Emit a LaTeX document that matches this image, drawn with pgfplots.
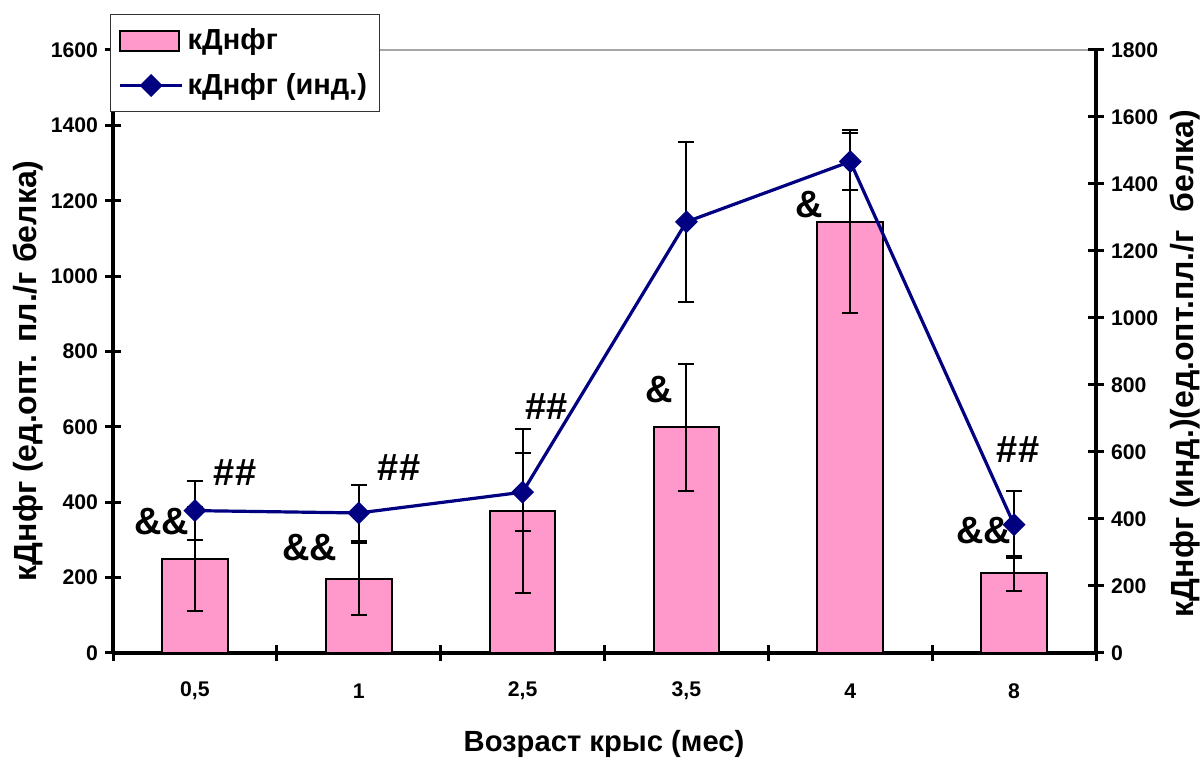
\documentclass[border=0pt]{standalone}
\usepackage{fontspec}
\setmainfont{Liberation Sans}
\usepackage{pgfplots}
\pgfplotsset{compat=1.18}
\definecolor{barpink}{HTML}{FF99CC}
\definecolor{navyline}{HTML}{000080}
\tikzset{annot/.style={font=\bfseries\fontsize{19}{21}\selectfont, inner sep=0pt, anchor=center}}
\pgfplotsset{
  barlegend/.style={legend image code/.code={\draw[fill=barpink,draw=black,line width=1pt] (0pt,-5pt) rectangle (29.5pt,5pt);}},
  linelegend/.style={legend image code/.code={\draw[##1, mark repeat=2, mark phase=2] plot coordinates {(0pt,0pt) (15.5pt,0pt) (31pt,0pt)};}},
  common/.style={
    at={(56.5pt,52.5pt)}, anchor=south west,
    scale only axis, width=491.5pt, height=301.5pt,
    xmin=-0.5, xmax=5.5,
    /pgf/number format/assume math mode=true,
    /pgf/number format/1000 sep={},
    tick label style={font=\bfseries\fontsize{10.6}{12}\selectfont},
    axis line style={-, line width=2pt, black},
    tick align=center,
    major tick length=8pt,
    minor tick length=8pt,
    clip=false,
  },
  errstyle/.style={error bars/.cd, y dir=both, y explicit,
    error bar style={line width=1pt, black},
    error mark=-,
    error mark options={rotate=90, black, line width=1pt, mark size=4pt}},
}
\begin{document}
\begin{tikzpicture}
\useasboundingbox (0,0) rectangle (601pt,379pt);
\begin{axis}[common,
  axis x line*=bottom, axis y line*=left,
  ymin=0, ymax=1600, ytick={0,200,...,1600},
  ytick style={line width=1.5pt, black},
  xtick={0,...,5}, xticklabels={{0,5},{1},{2,5},{3,5},{4},{8}},
  minor xtick={-0.5,0.5,...,5.5},
  major x tick style={draw=none},
  minor x tick style={line width=1.5pt, black},
  xticklabel style={anchor=center, yshift=-15pt},
  every axis y label/.style={at={(axis description cs:-0.0865,0.468)}, rotate=90, anchor=center, font=\bfseries\fontsize{16}{18}\selectfont},
  every axis x label/.style={at={(axis description cs:0.4995,-0.151)}, anchor=center, font=\bfseries\fontsize{14.6}{16}\selectfont},
  ylabel={кДнфг (ед.опт. пл./г белка)},
  xlabel={Возраст крыс (мес)},
]
\draw[gray!70, line width=0.6pt] (rel axis cs:0,1) -- (rel axis cs:1,1);
\addplot[ybar, bar width=0.4, fill=barpink, draw=black, line width=1pt, errstyle]
  coordinates {
  (0,249) +- (0,138)
  (1,196) +- (0,95)
  (2,377) +- (0,218)
  (3,599) +- (0,169)
  (4,1144) +- (0,243)
  (5,211) +- (0,47)
  };
\node[annot] at (axis cs:-0.201,348) {\&\&};
\node[annot] at (axis cs:0.245,480) {\#\#};
\node[annot] at (axis cs:0.702,281) {\&\&};
\node[annot] at (axis cs:1.246,493) {\#\#};
\node[annot] at (axis cs:2.149,653) {\#\#};
\node[annot] at (axis cs:2.833,700) {\&};
\node[annot] at (axis cs:3.748,1191) {\&};
\node[annot] at (axis cs:5.024,539) {\#\#};
\node[annot] at (axis cs:4.816,326) {\&\&};
\end{axis}
\begin{axis}[common,
  axis x line=none, axis y line*=right,
  ymin=0, ymax=1800, ytick={0,200,...,1800},
  ytick style={line width=1.5pt, black},
  every axis y label/.style={at={(axis description cs:1.0905,0.48)}, rotate=90, anchor=center, font=\bfseries\fontsize{16}{18}\selectfont},
  ylabel={кДнфг (инд.)(ед.опт.пл./г\ \ белка)},
  legend style={at={(axis description cs:-0.003,1.0597)}, anchor=north west,
    draw=black!80, line width=0.5pt, fill=white,
    font=\bfseries\fontsize{14.5}{16}\selectfont,
    inner xsep=4pt, inner ysep=5pt, row sep=6.5pt},
  legend cell align=left,
]
\addlegendimage{barlegend}
\addlegendentry{кДнфг}
\addplot[navyline, line width=1.6pt, mark=square*, mark size=3.8pt,
  mark options={rotate=45, fill=navyline, draw=navyline, line width=0.5pt},
  linelegend, errstyle]
  coordinates {
  (0,425) +- (0,87)
  (1,418) +- (0,84)
  (2,480) +- (0,116)
  (3,1287) +- (0,239)
  (4,1467) +- (0,84)
  (5,383) +- (0,100)
  };
\addlegendentry{кДнфг (инд.)}
\end{axis}
\end{tikzpicture}
\end{document}
